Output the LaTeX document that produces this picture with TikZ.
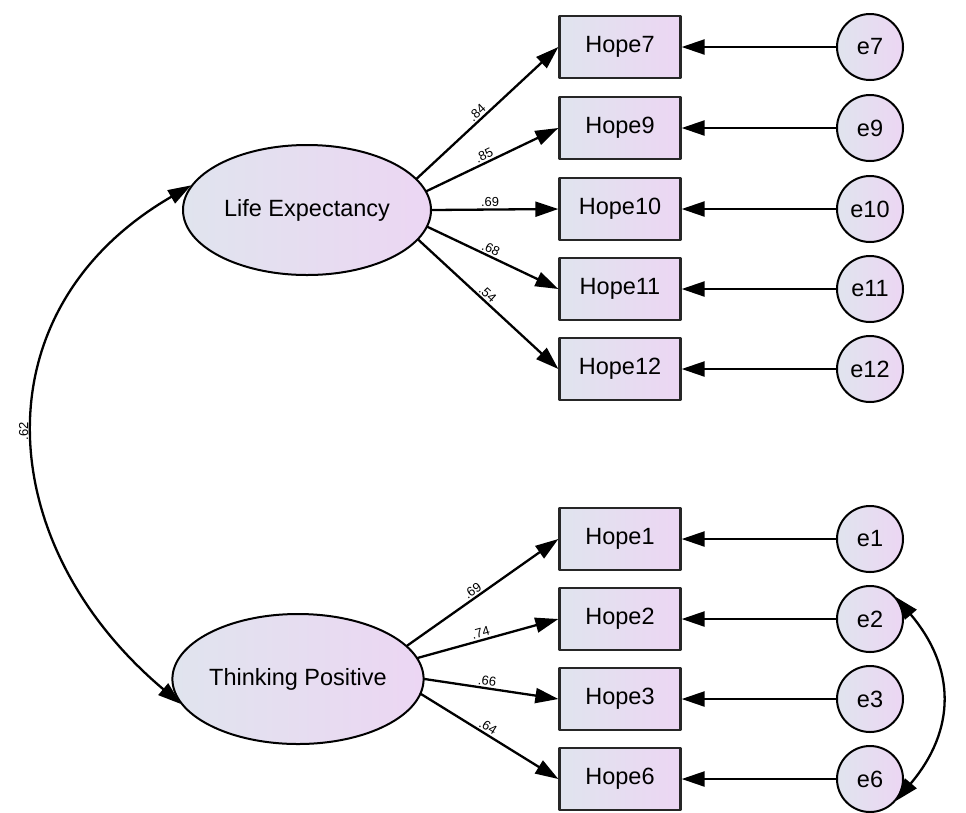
\documentclass[tikz,border=0pt]{standalone}
\usepackage{fontspec}
\setmainfont{Liberation Sans}
\usetikzlibrary{arrows.meta}
\usetikzlibrary{shapes.geometric}
\definecolor{shadeL}{HTML}{E0E4EE}
\definecolor{shadeR}{HTML}{ECD6F3}
\begin{document}
\begin{tikzpicture}[x=1pt, y=-1pt, line cap = round, line join = round, >={Triangle[length=23pt,width=15pt]}]
\tikzstyle{latent}=[ellipse, draw=black, line width=2pt, left color=shadeL, right color=shadeR, minimum width=248pt, minimum height=130pt, inner sep=0pt, font=\fontsize{23.5}{26}\selectfont]
\tikzstyle{observed}=[rectangle, draw=black!85, line width=2.3pt, left color=shadeL, right color=shadeR, minimum width=121pt, minimum height=62pt, inner sep=0pt, font=\fontsize{23.5}{26}\selectfont]
\tikzstyle{error}=[circle, draw=black, line width=2pt, left color=shadeL, right color=shadeR, minimum size=66pt, inner sep=0pt, font=\fontsize{23.5}{26}\selectfont]
\tikzstyle{arrowline}=[line width=2.3pt, ->]
\tikzstyle{weight}=[font=\fontsize{13}{15}\selectfont, sloped, above, pos=0.46, inner sep=1.5pt]
\useasboundingbox (0,0) rectangle (966,812);

% latent factors
\node[latent] (life) at (307,210) {Life Expectancy};
\node[latent] (think) at (298,679) {Thinking Positive};

% indicators
\node[observed] (h7) at (620,47) {Hope7};
\node[observed] (h9) at (620,128) {Hope9};
\node[observed] (h10) at (620,209) {Hope10};
\node[observed] (h11) at (620,289) {Hope11};
\node[observed] (h12) at (620,369) {Hope12};
\node[observed] (h1) at (620,539) {Hope1};
\node[observed] (h2) at (620,619) {Hope2};
\node[observed] (h3) at (620,699) {Hope3};
\node[observed] (h6) at (620,779) {Hope6};

% error terms
\node[error] (e7) at (870,47) {e7};
\node[error] (e9) at (870,128) {e9};
\node[error] (e10) at (870,209) {e10};
\node[error] (e11) at (870,289) {e11};
\node[error] (e12) at (870,369) {e12};
\node[error] (e1) at (870,539) {e1};
\node[error] (e2) at (870,619) {e2};
\node[error] (e3) at (870,699) {e3};
\node[error] (e6) at (870,779) {e6};

% loadings
\draw[arrowline] (life.16) -- (h7.west) node[weight]{.84};
\draw[arrowline] (life.9) -- (h9.west) node[weight]{.85};
\draw[arrowline] (life.0) -- (h10.west) node[weight]{.69};
\draw[arrowline] (life.-8) -- (h11.west) node[weight]{.68};
\draw[arrowline] (life.-15) -- (h12.west) node[weight]{.54};
\draw[arrowline] (think.17) -- (h1.west) node[weight]{.69};
\draw[arrowline] (think.10) -- (h2.west) node[weight]{.74};
\draw[arrowline] (think.0) -- (h3.west) node[weight]{.66};
\draw[arrowline] (think.-7) -- (h6.west) node[weight]{.64};

% errors
\draw[arrowline] (e7) -- (h7.east);
\draw[arrowline] (e9) -- (h9.east);
\draw[arrowline] (e10) -- (h10.east);
\draw[arrowline] (e11) -- (h11.east);
\draw[arrowline] (e12) -- (h12.east);
\draw[arrowline] (e1) -- (h1.east);
\draw[arrowline] (e2) -- (h2.east);
\draw[arrowline] (e3) -- (h3.east);
\draw[arrowline] (e6) -- (h6.east);

% covariances
\draw[arrowline, <->] (life.168) .. controls +(-214,124) and +(-190,-160) .. (think.192)
  node[pos=0.5, rotate=90, anchor=south, inner sep=5pt, font=\fontsize{13}{15}\selectfont]{.62};
\draw[arrowline, <->] (e2.40) .. controls +(60,71) and +(60,-71) .. (e6.-40);
\end{tikzpicture}
\end{document}
